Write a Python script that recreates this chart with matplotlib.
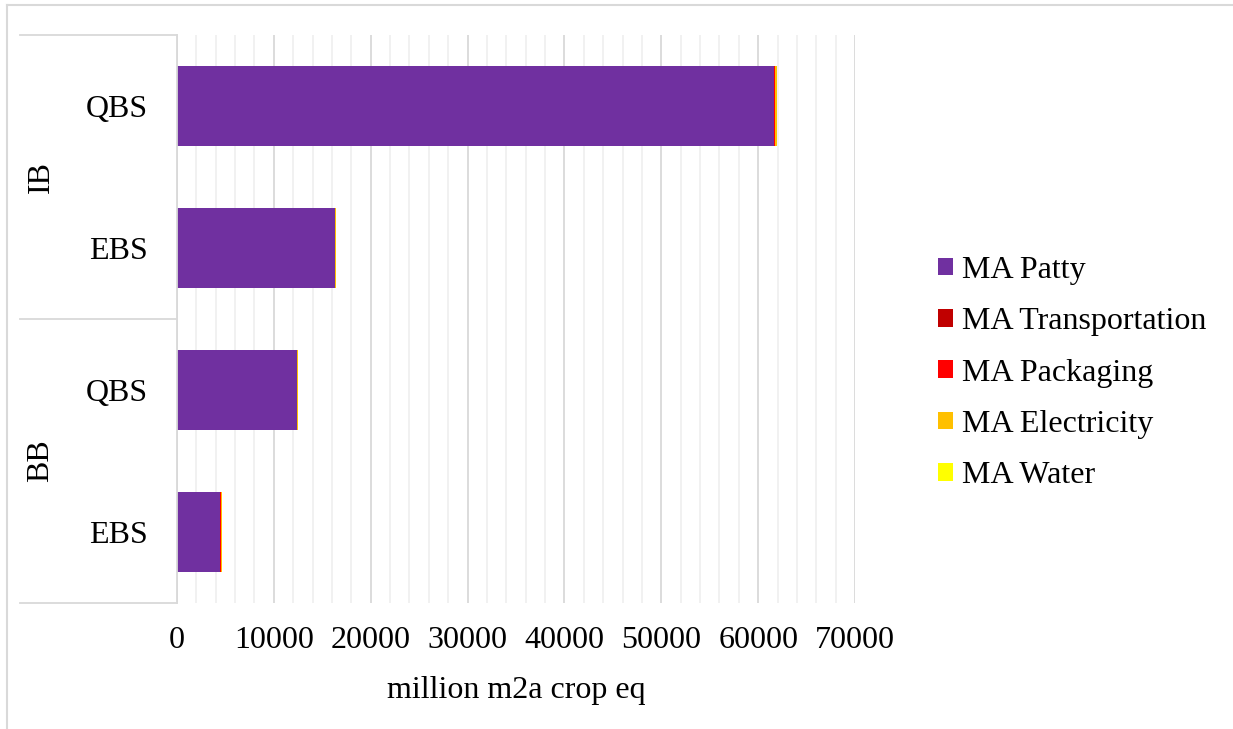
import numpy as np
import matplotlib
matplotlib.use("Agg")
import matplotlib.pyplot as plt
from matplotlib import transforms
from matplotlib.lines import Line2D

# Rows, top to bottom
groups = ["IB", "IB", "BB", "BB"]
systems = ["QBS", "EBS", "QBS", "EBS"]

# Land use contributions (million m2a crop eq)
ma_patty = [61640, 16310, 12360, 4440]
ma_transportation = [30, 20, 20, 40]
ma_packaging = [50, 30, 30, 60]
ma_electricity = [180, 80, 60, 60]
ma_water = [10, 5, 5, 5]

series_names = ["MA Patty", "MA Transportation", "MA Packaging",
                "MA Electricity", "MA Water"]
series_values = [ma_patty, ma_transportation, ma_packaging,
                 ma_electricity, ma_water]
series_colors = ["#7030A0", "#C00000", "#FF0000", "#FFC000", "#FFFF00"]

x_ticks = [0, 10000, 20000, 30000, 40000, 50000, 60000, 70000]

plt.rcParams["font.family"] = ["Liberation Serif", "DejaVu Serif"]
FS = 23
GRID_MAJOR = "#d9d9d9"
GRID_MINOR = "#ededed"

W, H = 1233, 729
fig = plt.figure(figsize=(W / 100, H / 100), dpi=100)
ax = fig.add_axes([177 / W, 1 - 603 / H, (855 - 177) / W, (603 - 35) / H])

y = np.arange(len(systems))
left = np.zeros(len(systems))
for name, vals, col in zip(series_names, series_values, series_colors):
    vals = np.array(vals, dtype=float)
    ax.barh(y, vals, left=left, height=0.565, color=col, label=name,
            zorder=3, linewidth=0)
    left += vals

ax.set_ylim(len(systems) - 0.5, -0.5)
ax.set_xlim(0, 70000)

# Grid: major every 10000, minor every 2000
ax.set_xticks(x_ticks)
ax.set_xticklabels([str(t) for t in x_ticks], fontsize=FS)
ax.set_xticks(np.arange(0, 70001, 2000), minor=True)
ax.grid(axis="x", which="major", color=GRID_MAJOR, linewidth=1.3, zorder=0)
ax.grid(axis="x", which="minor", color=GRID_MINOR, linewidth=1.1, zorder=0)
ax.tick_params(axis="x", which="both", length=0, pad=16.5)
ax.tick_params(axis="y", length=0, pad=21)

ax.set_yticks(y)
ax.set_yticklabels(systems, fontsize=FS)

for side in ["top", "right", "bottom"]:
    ax.spines[side].set_visible(False)
ax.spines["left"].set_color(GRID_MAJOR)
ax.spines["left"].set_linewidth(1.3)
ax.spines["left"].set_zorder(4)

ax.set_xlabel("million m2a crop eq", fontsize=FS, labelpad=15)

# Grouped category axis: separators and rotated group names
blend = transforms.blended_transform_factory(fig.transFigure, ax.transData)
group_names = []
for g in groups:
    if g not in group_names:
        group_names.append(g)
bounds = [-0.5]
for g in group_names:
    idx = [i for i, gg in enumerate(groups) if gg == g]
    lo, hi = min(idx) - 0.5, max(idx) + 0.5
    bounds.append(hi)
    ax.text(41 / W, (lo + hi) / 2, g, transform=blend, rotation=90,
            ha="center", va="center", fontsize=FS)
for b in bounds:
    ax.add_line(Line2D([20 / W, 177 / W], [b, b], transform=blend,
                       color=GRID_MAJOR, linewidth=1.3, clip_on=False))

# Outer chart frame
fig.add_artist(Line2D([7 / W, 7 / W], [0, 1 - 5 / H], color=GRID_MAJOR,
                      linewidth=1.5, transform=fig.transFigure))
fig.add_artist(Line2D([7 / W, 1], [1 - 5 / H, 1 - 5 / H], color=GRID_MAJOR,
                      linewidth=1.5, transform=fig.transFigure))

leg = fig.legend(loc="center left", bbox_to_anchor=(938 / W, 1 - 373 / H),
                 frameon=False, fontsize=FS, handlelength=0.48,
                 handleheight=0.48, handletextpad=0.28, labelspacing=0.7,
                 borderaxespad=0, borderpad=0)

fig.savefig("out.png", dpi=100, facecolor="white")
